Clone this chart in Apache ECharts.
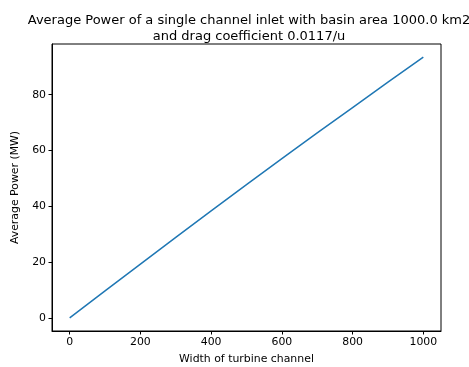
<!DOCTYPE html>
<html>
<head>
<meta charset="utf-8">
<script src="https://cdn.jsdelivr.net/npm/echarts@6/dist/echarts.min.js"></script>
<style>html,body{margin:0;padding:0;background:#fff}#c{width:469px;height:367px}</style>
</head>
<body>
<div id="c"></div>
<script>
const widths = [0, 100, 200, 300, 400, 500, 600, 700, 800, 900, 1000];
const power = [0, 9.7, 19.3, 28.9, 38.4, 47.8, 57.1, 66.3, 75.4, 84.5, 93.5];
const xTicks = [0, 200, 400, 600, 800, 1000];
const yTicks = [0, 20, 40, 60, 80];
const titleText = 'Average Power of a single channel inlet with basin area 1000.0 km2\nand drag coefficient 0.0117/u';
const xName = 'Width of turbine channel';
const yName = 'Average Power (MW)';

const font = 'DejaVu Sans';
const chart = echarts.init(document.getElementById('c'), null, {renderer: 'canvas'});
chart.setOption({
  animation: false,
  backgroundColor: '#fff',
  title: {
    text: titleText,
    left: 244, top: 8, textAlign: 'center',
    textStyle: {fontFamily: font, fontSize: 13, fontWeight: 'normal', color: '#000', lineHeight: 16}
  },
  grid: {left: 52, right: 28, top: 44, bottom: 36, show: true, borderColor: '#000', borderWidth: 1,
         backgroundColor: 'transparent', containLabel: false, outerBoundsMode: 'none'},
  xAxis: {
    type: 'value', min: -50, max: 1050,
    name: xName, nameLocation: 'middle', nameGap: 23,
    nameTextStyle: {fontFamily: font, fontSize: 10.9, color: '#000'},
    axisLine: {show: true, onZero: false, lineStyle: {color: '#000', width: 1}},
    axisTick: {show: true, length: 3.5, inside: false, customValues: xTicks, lineStyle: {color: '#000'}},
    axisLabel: {customValues: xTicks, formatter: v => String(v), fontFamily: font, fontSize: 10.9, color: '#000', margin: 6},
    splitLine: {show: false}
  },
  yAxis: {
    type: 'value', min: -4.675, max: 98.175,
    name: yName, nameLocation: 'middle', nameGap: 31,
    nameTextStyle: {fontFamily: font, fontSize: 10.9, color: '#000'},
    axisLine: {show: true, onZero: false, lineStyle: {color: '#000', width: 1}},
    axisTick: {show: true, length: 3.5, inside: false, customValues: yTicks, lineStyle: {color: '#000'}},
    axisLabel: {customValues: yTicks, formatter: v => String(v), fontFamily: font, fontSize: 10.9, color: '#000', margin: 6},
    splitLine: {show: false}
  },
  series: [{
    type: 'line',
    data: widths.map((w, i) => [w, power[i]]),
    showSymbol: false,
    lineStyle: {color: '#1f77b4', width: 1.5},
    itemStyle: {color: '#1f77b4'}
  }]
});
</script>
</body>
</html>
